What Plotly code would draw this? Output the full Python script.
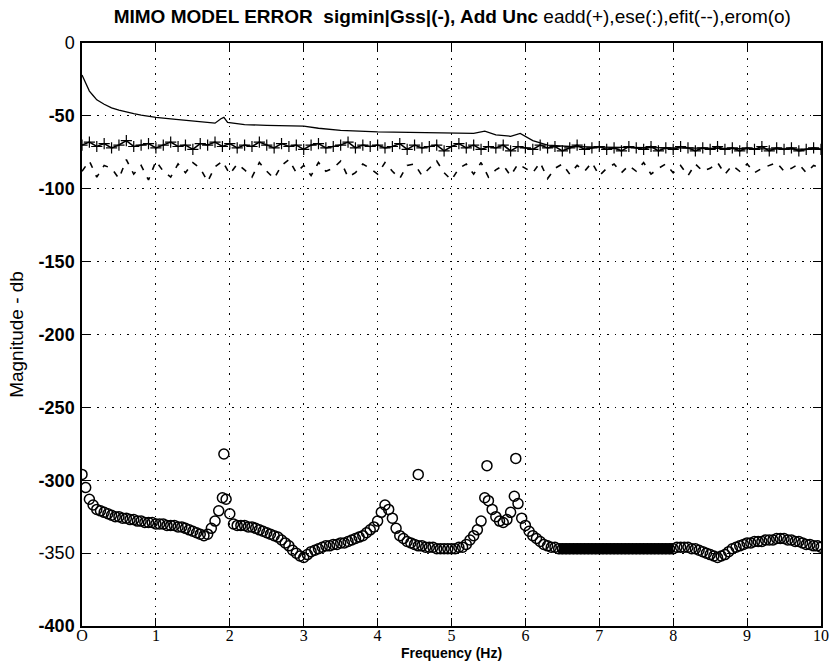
import numpy as np
import plotly.graph_objects as go

# ---------------- data ----------------
x_ticks = [0, 1, 2, 3, 4, 5, 6, 7, 8, 9, 10]
x_tick_labels = ["O", "1", "2", "3", "4", "5", "6", "7", "8", "9", "10"]
y_ticks = [0, -50, -100, -150, -200, -250, -300, -350, -400]
y_tick_labels = ["0", "<b>-50</b>", "<b>-100</b>", "<b>-150</b>", "<b>-200</b>",
                 "<b>-250</b>", "<b>-300</b>", "-350", "<b>-400</b>"]

# sigmin|Gss| (solid line)
sig_x = [0.0, 0.05, 0.1, 0.15, 0.2, 0.3, 0.4, 0.5, 0.6, 0.7, 0.8, 0.9, 1.0, 1.2, 1.4,
         1.6, 1.8, 1.88, 1.92, 1.97, 2.2, 2.5, 3.0, 3.2, 3.5, 4.0, 4.5, 5.0, 5.3, 5.45,
         5.6, 5.8, 5.93, 6.1, 6.3, 6.6, 7.0, 8.0, 9.0, 10.0]
sig_y = [-22, -28, -33, -36, -39, -42, -44.5, -46, -47.5, -48.5, -49.5, -50.5, -51, -52, -53,
         -54, -55, -52, -51, -54.5, -56, -56.5, -57, -58.5, -60, -61, -61.5, -62, -62, -60.5,
         -63, -64, -62, -67, -70, -71, -71.5, -72, -72.5, -73]

# eadd (+) on a 0.1 Hz grid
eadd_y = [
    -70, -68, -71, -69, -72, -70, -67, -71, -70, -69,
    -72, -70, -68, -71, -70, -73, -69, -70, -68, -71,
    -69, -72, -70, -71, -68, -70, -72, -69, -71, -70,
    -73, -70, -69, -72, -71, -70, -68, -72, -70, -71,
    -70, -72, -71, -69, -73, -70, -72, -71, -70, -74,
    -71, -69, -72, -70, -73, -71, -72, -70, -74, -71,
    -72, -73, -70, -72, -71, -74, -72, -70, -73, -72,
    -71, -73, -72, -74, -71, -72, -73, -71, -74, -72,
    -73, -71, -72, -74, -72, -73, -71, -73, -72, -74,
    -72, -73, -71, -74, -72, -73, -72, -74, -73, -72,
    -73]

# efit (--) on a 0.1 Hz grid
efit_y = [
    -88, -81, -92, -84, -86, -93, -80, -90, -84, -94,
    -81, -88, -92, -83, -89, -82, -86, -95, -85, -81,
    -90, -83, -87, -92, -82, -88, -93, -84, -80, -89,
    -84, -91, -82, -88, -86, -81, -92, -89, -83, -86,
    -90, -82, -88, -93, -84, -83, -91, -86, -81, -89,
    -94, -86, -83, -90, -82, -92, -87, -84, -91, -83,
    -86, -89, -82, -93, -86, -83, -90, -84, -88, -82,
    -91, -86, -83, -89, -84, -88, -82, -90, -86, -83,
    -89, -84, -91, -83, -88, -86, -82, -90, -84, -88,
    -83, -89, -86, -84, -82, -88, -86, -83, -89, -84,
    -86]

# erom (o) on a 0.05 Hz grid
erom_y = [
    # 0.00 - 0.95
    -296, -305, -313, -317, -320, -321, -322, -323, -324, -325,
    -325, -326, -326, -327, -327, -328, -328, -329, -329, -329,
    # 1.00 - 1.95
    -330, -330, -330, -331, -331, -331, -332, -332, -333, -334,
    -335, -336, -337, -338, -337, -333, -328, -321, -312, -313,
    # 2.00 - 2.95
    -323, -330, -331, -331, -331, -332, -332, -333, -334, -335,
    -336, -337, -338, -339, -341, -343, -345, -348, -350, -352,
    # 3.00 - 3.95
    -353, -351, -349, -348, -347, -346, -345, -345, -344, -344,
    -343, -343, -342, -341, -340, -339, -338, -336, -334, -332,
    # 4.00 - 4.95
    -328, -322, -317, -320, -326, -333, -338, -340, -342, -343,
    -344, -345, -345, -346, -346, -346, -347, -347, -347, -347,
    # 5.00 - 5.95
    -347, -347, -346, -346, -344, -341, -338, -334, -328, -312,
    -314, -320, -325, -328, -329, -327, -322, -311, -316, -326,
    # 6.00 - 6.95
    -331, -335, -338, -340, -342, -344, -345, -346, -346, -347,
    -347, -347, -347, -347, -347, -347, -347, -347, -347, -347,
    # 7.00 - 7.95
    -347, -347, -347, -347, -347, -347, -347, -347, -347, -347,
    -347, -347, -347, -347, -347, -347, -347, -347, -347, -347,
    # 8.00 - 8.95
    -347, -346, -346, -346, -346, -347, -347, -348, -349, -350,
    -351, -352, -353, -352, -351, -349, -347, -346, -345, -344,
    # 9.00 - 10.00
    -343, -343, -342, -342, -342, -341, -341, -341, -340, -340,
    -340, -341, -341, -342, -342, -343, -344, -344, -345, -345,
    -346]
# isolated erom points above the peaks
erom_out_x = [1.92, 4.55, 5.48, 5.87]
erom_out_y = [-282, -296, -290, -285]

# ---------------- figure ----------------
x01 = np.round(np.linspace(0, 10, len(eadd_y)), 3)
x005 = np.round(np.linspace(0, 10, len(erom_y)), 3)

FONT_SANS = "Liberation Sans, Arial, sans-serif"
FONT_NARROW = "Liberation Sans Narrow, Liberation Sans, Arial, sans-serif"
FONT_SERIF = "Liberation Serif, Times New Roman, serif"

fig = go.Figure()

fig.add_trace(go.Scatter(x=sig_x, y=sig_y, mode="lines",
                         line=dict(color="black", width=1.3), name="sigmin|Gss|"))
fig.add_trace(go.Scatter(x=x01, y=eadd_y, mode="lines+markers",
                         line=dict(color="black", width=1.6),
                         marker=dict(symbol="cross-thin-open", size=8,
                                     line=dict(color="black", width=1.2)),
                         name="eadd"))
fig.add_trace(go.Scatter(x=x01, y=efit_y, mode="lines",
                         line=dict(color="black", width=1.6, dash="6px,8px"),
                         name="efit"))

# dense band of erom circles (6.45 - 8.0 Hz)
band_mask = (x005 >= 6.45) & (x005 <= 8.0)
fig.add_trace(go.Scatter(x=x005[band_mask], y=np.array(erom_y)[band_mask], mode="lines",
                         line=dict(color="black", width=11), name="erom band"))

erom_x_all = list(x005) + erom_out_x
erom_y_all = list(erom_y) + erom_out_y
fig.add_trace(go.Scatter(x=erom_x_all, y=erom_y_all, mode="markers",
                         marker=dict(symbol="circle-open", size=10, color="black",
                                     line=dict(color="black", width=1.5)),
                         name="erom"))

axis_common = dict(showline=True, linecolor="black", linewidth=1.5, mirror="allticks",
                   ticks="inside", ticklen=8, tickcolor="black", tickwidth=1,
                   showgrid=True, gridcolor="black", gridwidth=1,
                   griddash="1.5px,6px", zeroline=False, automargin=False)

fig.update_xaxes(range=[0, 10], tickvals=x_ticks, ticktext=x_tick_labels,
                 tickfont=dict(family=FONT_SERIF, size=16, color="black"),
                 ticklabelstandoff=-6,
                 **axis_common)
fig.update_yaxes(range=[-400, 0], tickvals=y_ticks, ticktext=y_tick_labels,
                 tickfont=dict(family=FONT_SANS, size=18, color="black"),
                 ticklabelstandoff=2,
                 title=dict(text="Magnitude - db", standoff=10,
                            font=dict(family=FONT_SANS, size=19, color="black")),
                 **axis_common)

PLOT_H = 664 - 43 - 38
fig.add_annotation(text="<b>Frequency (Hz)</b>", xref="paper", yref="paper",
                   x=0.5, y=-37.0 / PLOT_H, xanchor="center", yanchor="bottom",
                   showarrow=False,
                   font=dict(family=FONT_NARROW, size=14, color="black"))

fig.update_layout(
    width=833, height=664,
    margin=dict(l=82, r=12, t=43, b=38),
    paper_bgcolor="white", plot_bgcolor="white",
    showlegend=False,
    title=dict(text="<b>MIMO MODEL ERROR  sigmin|Gss|(-), Add Unc</b> eadd(+),ese(:),efit(--),erom(o)",
               x=0.543, xanchor="center", y=0.976, yanchor="middle",
               font=dict(family=FONT_NARROW, size=19, color="black")),
)

fig.write_html("out.html", config={"displayModeBar": False},
               post_script="document.body.style.margin='0';document.body.style.padding='0';")
